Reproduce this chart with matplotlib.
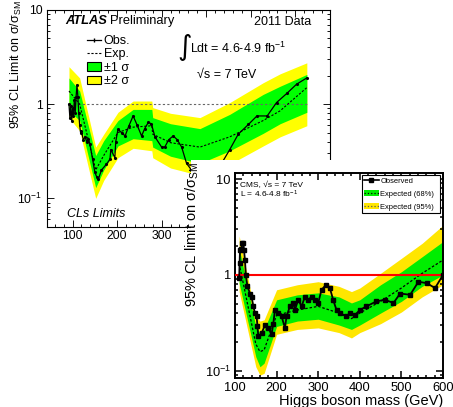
import matplotlib
matplotlib.use("Agg")
import matplotlib.pyplot as plt
from matplotlib.patches import Rectangle, Patch
from matplotlib.lines import Line2D
from matplotlib.ticker import LogLocator, NullFormatter, MultipleLocator

plt.rcParams['font.family'] = ['Liberation Sans', 'DejaVu Sans']
plt.rcParams['mathtext.fontset'] = 'custom'
plt.rcParams['mathtext.rm'] = 'Liberation Sans'
plt.rcParams['mathtext.it'] = 'Liberation Sans:italic'
plt.rcParams['mathtext.bf'] = 'Liberation Sans:bold'

# ATLAS expected limit and bands
atlas_exp_mass = [92, 116, 152, 170, 202, 236, 278, 280, 320, 386, 453, 528, 566, 626]
atlas_exp = [1.38, 1.0, 0.2, 0.285, 0.50, 0.57, 0.59, 0.48, 0.39, 0.35, 0.45, 0.67, 0.85, 1.5]
atlas_lo1 = [0.85, 0.67, 0.13, 0.20, 0.36, 0.43, 0.41, 0.35, 0.28, 0.235, 0.32, 0.49, 0.62, 0.82]
atlas_hi1 = [1.9, 1.38, 0.285, 0.41, 0.67, 0.88, 0.88, 0.72, 0.62, 0.55, 0.78, 1.27, 1.55, 2.07]
atlas_lo2 = [0.72, 0.52, 0.10, 0.155, 0.27, 0.34, 0.32, 0.27, 0.21, 0.175, 0.23, 0.36, 0.45, 0.59]
atlas_hi2 = [2.5, 1.9, 0.35, 0.48, 0.82, 1.08, 1.08, 0.92, 0.80, 0.72, 1.04, 1.69, 2.1, 2.75]

# ATLAS observed limit
atlas_obs_mass = [92, 94, 96, 98, 100, 102, 104, 106, 108, 110, 112, 114, 116, 118, 120,
                  124, 128, 132, 135, 139, 145, 150, 154, 158, 165, 176, 184, 186, 195,
                  197, 202, 210, 218, 226, 236, 245, 255, 262, 270, 277, 285, 300, 307,
                  316, 326, 335, 345, 356, 367, 400, 438, 453, 472, 495, 514, 537, 558,
                  581, 603, 626]
atlas_obs = [1.0, 0.72, 0.95, 0.66, 0.9, 0.75, 1.1, 0.8, 1.2, 1.6, 1.2, 0.8, 0.6, 0.5, 0.52,
             0.42, 0.45, 0.40, 0.43, 0.38, 0.26, 0.19, 0.17, 0.16, 0.2, 0.23, 0.26, 0.33, 0.27,
             0.40, 0.54, 0.50, 0.46, 0.58, 0.75, 0.60, 0.46, 0.55, 0.64, 0.62, 0.45, 0.35, 0.35,
             0.42, 0.46, 0.42, 0.35, 0.235, 0.2, 0.16, 0.25, 0.33, 0.48, 0.61, 0.75, 0.75, 1.04,
             1.3, 1.63, 1.9]
atlas_mass_ticks = [100, 200, 300, 400, 500, 600]
atlas_mass_labels = ['100', '200', '300', '', '', '']

# CMS expected limit and bands
cms_exp_mass = [110, 150, 160, 170, 200, 250, 300, 350, 380, 400, 450, 500, 550, 600]
cms_exp = [1.32, 0.19, 0.158, 0.165, 0.38, 0.43, 0.47, 0.40, 0.35, 0.40, 0.53, 0.73, 1.04, 1.43]
cms_lo1 = [0.82, 0.14, 0.11, 0.12, 0.29, 0.33, 0.345, 0.30, 0.27, 0.30, 0.40, 0.53, 0.76, 1.0]
cms_hi1 = [1.9, 0.29, 0.25, 0.27, 0.55, 0.62, 0.65, 0.59, 0.51, 0.55, 0.79, 1.08, 1.55, 2.23]
cms_lo2 = [0.67, 0.11, 0.09, 0.094, 0.24, 0.27, 0.28, 0.25, 0.22, 0.25, 0.31, 0.41, 0.59, 0.79]
cms_hi2 = [2.55, 0.37, 0.33, 0.34, 0.70, 0.79, 0.85, 0.76, 0.67, 0.73, 1.04, 1.49, 2.14, 3.3]

# CMS observed limit
cms_obs_mass = [110, 111, 112, 115, 117.6, 120, 121.6, 124, 126, 130, 136, 140, 144, 148, 152,
                154, 156, 164, 172, 180, 188, 192, 196, 204, 212, 220, 224, 232, 240, 244,
                252, 260, 268, 276, 284, 292, 300, 308, 319, 328, 336, 344, 352, 368, 376,
                388, 400, 416, 440, 460, 481, 497, 521, 541, 561, 581, 600]
cms_obs = [0.92, 1.32, 1.82, 1.85, 2.14, 2.17, 1.82, 1.43, 1.0, 0.76, 0.64, 0.59, 0.47, 0.40, 0.37,
           0.29, 0.23, 0.246, 0.30, 0.28, 0.24, 0.31, 0.43, 0.40, 0.37, 0.28, 0.37, 0.47, 0.51, 0.43,
           0.55, 0.47, 0.59, 0.55, 0.59, 0.55, 0.51, 0.70, 0.79, 0.73, 0.55, 0.43, 0.40, 0.37, 0.40,
           0.38, 0.43, 0.47, 0.53, 0.55, 0.51, 0.64, 0.62, 0.85, 0.82, 0.73, 1.0]
cms_mass_ticks = [100, 200, 300, 400, 500, 600]
cms_mass_labels = ['100', '200', '300', '400', '500', '600']

decade_ticks = [0.1, 1, 10]
decade_labels = ['$10^{-1}$', '1', '10']

W, H = 453, 407
fig = plt.figure(figsize=(W / 100, H / 100), dpi=100)


def fx(x):
    return x / W


def fy(y):
    return 1 - y / H


def style_axes(ax, xlim, ylim, xticks, xlabels, lw, fs, pad_x):
    ax.set_yscale('log')
    ax.set_xlim(*xlim)
    ax.set_ylim(*ylim)
    ax.set_yticks(decade_ticks, labels=decade_labels)
    ax.yaxis.set_minor_locator(LogLocator(subs=range(2, 10)))
    ax.yaxis.set_minor_formatter(NullFormatter())
    ax.set_xticks(xticks, labels=xlabels)
    ax.xaxis.set_minor_locator(MultipleLocator(20))
    ax.tick_params(which='both', direction='in', top=True, right=True, width=lw * 0.8)
    ax.tick_params(which='major', length=5, labelsize=fs, pad=3)
    ax.tick_params(axis='x', which='major', pad=pad_x)
    ax.tick_params(which='minor', length=2.5)
    for s in ax.spines.values():
        s.set_linewidth(lw)


# ---- ATLAS panel ----
ax1 = fig.add_axes([fx(46.7), fy(226.7), (330 - 46.7) / W, (226.7 - 10) / H])
ax1.set_zorder(0)
style_axes(ax1, (42, 678), (0.05, 10), atlas_mass_ticks, atlas_mass_labels, 0.8, 8.8, 2.5)

ax1.fill_between(atlas_exp_mass, atlas_lo2, atlas_hi2, color='#ffff00', lw=0, zorder=1)
ax1.fill_between(atlas_exp_mass, atlas_lo1, atlas_hi1, color='#00ff00', lw=0, zorder=2)
ax1.hlines(1, atlas_obs_mass[0], atlas_obs_mass[-1], colors='0.4', linestyles=(0, (2, 2)),
           lw=0.8, zorder=3)
ax1.plot(atlas_exp_mass, atlas_exp, color='k', ls=(0, (2, 1.5)), lw=0.8, zorder=4)
ax1.plot(atlas_obs_mass, atlas_obs, color='k', lw=0.9, marker='.', ms=2.5, zorder=5)

ax1.set_ylabel('95% CL Limit on σ/σ$_{\\rm SM}$', fontsize=9)
ax1.yaxis.set_label_coords(-0.08, 0.75)

fig.text(fx(65), fy(24), 'ATLAS', fontsize=9.3, fontweight='bold', fontstyle='italic',
         va='baseline')
fig.text(fx(110), fy(24), 'Preliminary', fontsize=9.3, va='baseline')
fig.text(fx(311.7), fy(25), '2011 Data', fontsize=9, ha='right', va='baseline')
fig.text(fx(177), fy(47), '∫', fontsize=20, family='DejaVu Sans', va='center')
fig.text(fx(190), fy(53.3), 'Ldt = 4.6-4.9 fb$^{-1}$', fontsize=9, va='baseline')
fig.text(fx(197), fy(77.7), '√s = 7 TeV', fontsize=9, va='baseline')
fig.text(fx(66.7), fy(217.3), 'CLs Limits', fontsize=9, fontstyle='italic', va='baseline')

atlas_handles = [
    Line2D([], [], color='k', lw=0.9, marker='|', ms=3),
    Line2D([], [], color='k', lw=0.8, ls=(0, (2, 1.5))),
    Patch(facecolor='#00ff00', edgecolor='k', lw=0.8),
    Patch(facecolor='#ffff00', edgecolor='k', lw=0.8),
]
ax1.legend(atlas_handles, ['Obs.', 'Exp.', '±1 σ', '±2 σ'], loc='upper left',
           bbox_to_anchor=(fx(86.7), fy(35)), bbox_transform=fig.transFigure,
           frameon=False, fontsize=9, handlelength=1.15, handleheight=0.65,
           handletextpad=0.2, labelspacing=0.12, borderpad=0, borderaxespad=0)

# white backdrop for the CMS panel
fig.add_artist(Rectangle((fx(191), 0), 1 - fx(191), fy(160), transform=fig.transFigure,
                         facecolor='white', edgecolor='none', zorder=1))

# ---- CMS panel ----
ax2 = fig.add_axes([fx(235), fy(378), (443 - 235) / W, (378 - 173.3) / H])
ax2.set_zorder(2)
style_axes(ax2, (100, 600), (0.084, 11.5), cms_mass_ticks, cms_mass_labels, 1.4, 9.3, 3)

ax2.fill_between(cms_exp_mass, cms_lo2, cms_hi2, color='#ffe600', lw=0, zorder=1)
ax2.fill_between(cms_exp_mass, cms_lo1, cms_hi1, color='#00ee00', lw=0, zorder=2)
ax2.plot(cms_exp_mass, cms_exp, color='k', ls=(0, (2, 1.5)), lw=0.9, zorder=3)
ax2.axhline(1, color='red', lw=1.5, zorder=4)
ax2.plot(cms_obs_mass, cms_obs, color='k', lw=1.3, marker='s', ms=2.5, zorder=5)

ax2.set_ylabel('95% CL limit on σ/σ$_{\\rm SM}$', fontsize=10.5)
ax2.yaxis.set_label_coords(-0.165, 0.70)
ax2.set_xlabel('Higgs boson mass (GeV)', fontsize=10.5, ha='right')
ax2.xaxis.set_label_coords(1.0, -0.078)

fig.text(fx(240), fy(186.7), 'CMS, √s = 7 TeV', fontsize=6, va='baseline')
fig.text(fx(240), fy(197.3), 'L = 4.6-4.8 fb$^{-1}$', fontsize=6, va='baseline', zorder=3)

cms_handles = [
    Line2D([], [], color='k', lw=1.2, marker='s', ms=2.2),
    (Patch(facecolor='#00ee00', edgecolor='none'), Line2D([], [], color='k', ls=':', lw=0.9)),
    (Patch(facecolor='#ffe600', edgecolor='none'), Line2D([], [], color='0.35', ls=':', lw=0.9)),
]
leg = ax2.legend(cms_handles, ['Observed', 'Expected (68%)', 'Expected (95%)'],
                 loc='upper left', bbox_to_anchor=(0.609, 0.805, 0.377, 0.187), mode='expand',
                 fontsize=5.4, handlelength=1.9, handletextpad=0.25, labelspacing=0.75,
                 borderpad=0.35, borderaxespad=0, fancybox=False, edgecolor='k', framealpha=1)
leg.get_frame().set_linewidth(0.8)

fig.savefig('out.png', dpi=100)
